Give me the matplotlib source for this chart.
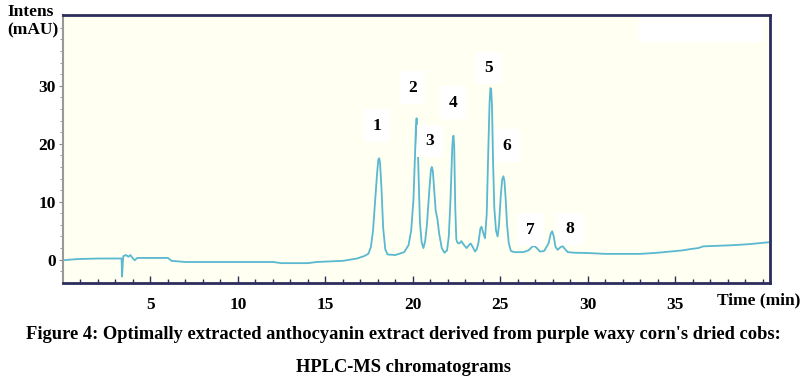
import matplotlib
matplotlib.use('Agg')
import matplotlib.pyplot as plt
from matplotlib.patches import Rectangle

plt.rcParams['font.family'] = ['Liberation Serif', 'DejaVu Serif']
plt.rcParams['font.weight'] = 'bold'

# trace (time in min, intensity in mAU)
time = [0.0, 0.8, 2.0, 3.0, 3.35, 3.38, 3.42, 3.45, 3.6, 3.75, 3.85, 4.0, 4.1, 4.25,
        5.0, 6.0, 6.2, 7.0, 9.0, 12.0, 12.5, 14.0, 14.5, 16.0, 16.8, 17.2, 17.45,
        17.6, 17.72, 17.85, 17.95, 18.02, 18.07, 18.12, 18.2, 18.3, 18.42, 18.55, 19.0,
        19.5, 19.75, 19.9, 20.03, 20.12, 20.17, 20.21, 20.26, 20.32, 20.4, 20.5, 20.6, 20.7,
        20.8, 20.95, 21.03, 21.08, 21.14, 21.22, 21.3, 21.4, 21.5, 21.65, 21.8, 21.95, 22.05,
        22.15, 22.25, 22.29, 22.32, 22.36, 22.42, 22.48, 22.55, 22.65, 22.77, 22.9, 23.07,
        23.2, 23.3, 23.4, 23.55, 23.65, 23.75, 23.85, 23.92, 24.0, 24.12, 24.22,
        24.3, 24.38, 24.43, 24.47, 24.52, 24.58, 24.65, 24.75, 24.84, 24.92, 25.02, 25.1,
        25.17, 25.23, 25.3, 25.38, 25.48, 25.6, 25.8, 26.3, 26.6, 26.88, 27.05, 27.26, 27.5,
        27.75, 27.88, 27.96, 28.05, 28.15, 28.27, 28.45, 28.56, 28.7, 28.85, 29.2,
        30.0, 31.0, 32.0, 33.0, 34.0, 34.7, 35.4, 35.8, 36.3, 36.6, 37.5, 38.3,
        39.3, 40.3]
intens = [-0.1, 0.1, 0.2, 0.2, 0.2, -2.9, -0.5, 0.6, 0.8, 0.5, 0.8, 0.2, -0.1, 0.3,
          0.3, 0.3, -0.2, -0.4, -0.4, -0.4, -0.6, -0.6, -0.4, -0.2, 0.2, 0.6, 1.0,
          2.2, 5.0, 10.5, 14.8, 17.2, 17.5, 16.8, 12.5, 5.5, 1.8, 0.9, 0.8,
          1.3, 2.5, 5.0, 10.3, 18.0, 23.0, 24.4, 22.0, 15.0, 6.5, 3.0, 2.0, 3.2,
          6.0, 12.5, 15.5, 16.0, 15.3, 12.0, 8.5, 7.0, 4.5, 2.0, 1.2, 1.6, 4.0,
          10.5, 19.5, 21.2, 21.4, 19.5, 9.0, 3.5, 2.9, 2.8, 3.2, 2.6, 2.0,
          2.5, 2.8, 2.3, 1.4, 1.8, 3.0, 5.3, 5.7, 4.8, 3.7, 8.0,
          18.0, 27.0, 29.6, 29.5, 26.5, 17.0, 9.0, 5.0, 4.0, 6.0, 11.0, 13.8,
          14.4, 13.6, 10.5, 6.0, 2.8, 1.5, 1.3, 1.3, 1.6, 2.4, 2.1, 1.4, 1.5,
          2.8, 4.5, 4.9, 4.0, 2.2, 1.7, 2.2, 2.3, 1.8, 1.3, 1.2,
          1.15, 1.0, 1.0, 1.0, 1.2, 1.4, 1.6, 1.8, 2.0, 2.3, 2.4, 2.5,
          2.7, 3.0]

peak_labels = ['1', '2', '3', '4', '5', '6', '7', '8']
label_x = [17.95, 19.99, 20.98, 22.29, 24.35, 25.38, 26.69, 28.97]
label_y = [23.1, 29.7, 20.5, 27.1, 33.1, 19.7, 5.2, 5.3]

x_ticks = [5, 10, 15, 20, 25, 30, 35]
y_ticks = [0, 10, 20, 30]

navy = '#2b2d5c'

fig = plt.figure(figsize=(8.07, 3.88), dpi=100)
ax = fig.add_axes([0.078, 0.271, 0.876, 0.690])
ax.set_facecolor('#fffff2')

# faint white patch near the top right of the plot area
ax.add_patch(Rectangle((0.815, 0.9), 0.175, 0.1, transform=ax.transAxes,
                       facecolor='white', edgecolor='none', zorder=0))

ax.plot(time, intens, color='#5ab8d0', lw=1.3, zorder=2)

for lab, lx, ly in zip(peak_labels, label_x, label_y):
    ax.text(lx, ly, lab, fontsize=12.5, fontweight='bold', ha='center', va='center',
            bbox=dict(facecolor='white', edgecolor='none', pad=6), zorder=3)

ax.set_xlim(0, 40.4)
ax.set_ylim(-4.0, 42.2)
ax.set_xticks(x_ticks)
ax.set_xticks(range(1, 41), minor=True)
ax.set_yticks(y_ticks)
ax.set_yticks(range(-2, 42, 2), minor=True)

ax.tick_params(axis='x', which='both', direction='in', colors=navy, labelcolor='black',
               labelsize=12.5, pad=10)
ax.tick_params(axis='x', which='major', length=5, width=1)
ax.tick_params(axis='x', which='minor', length=3, width=1)
ax.tick_params(axis='y', which='both', direction='out', colors='#888888', labelcolor='black',
               labelsize=12.5, pad=2)
ax.tick_params(axis='y', which='major', length=3)
ax.tick_params(axis='y', which='minor', length=2)

for s in ['top', 'right', 'bottom']:
    ax.spines[s].set_color(navy)
    ax.spines[s].set_linewidth(2)
ax.spines['left'].set_color('#999999')
ax.spines['left'].set_linewidth(1.5)

fig.text(0.009, 0.945, 'Intens\n(mAU)', fontsize=12.5, fontweight='bold', ha='left', va='center',
         linespacing=1.2)
fig.text(0.992, 0.225, 'Time (min)', fontsize=12.5, fontweight='bold', ha='right', va='center')

fig.text(0.5, 0.137, "Figure 4: Optimally extracted anthocyanin extract derived from purple waxy corn's dried cobs:",
         fontsize=13.3, fontweight='bold', ha='center', va='center')
fig.text(0.5, 0.052, 'HPLC-MS chromatograms', fontsize=13.3, fontweight='bold', ha='center', va='center')

fig.savefig('out.png', dpi=100)
